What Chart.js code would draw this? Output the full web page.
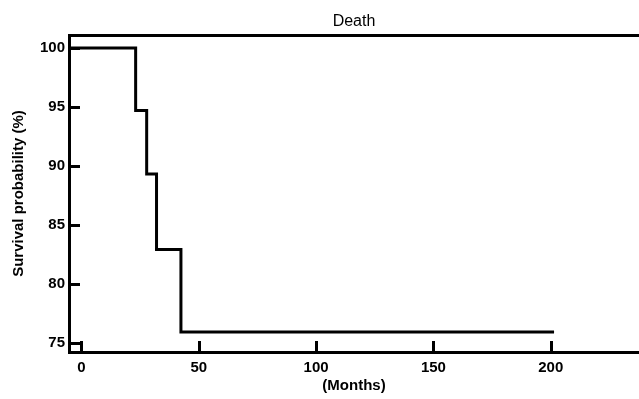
<!DOCTYPE html>
<html lang="en">
<head>
    <meta charset="UTF-8">
    <script src="https://cdn.jsdelivr.net/npm/chart.js"></script>
    <title>Death - survival</title>
    <style>
        body { margin: 0; background: #fff; }
        canvas { display: block; }
    </style>
</head>
<body>
    <canvas id="kmChart" width="639" height="399"></canvas>
    <script>
        // Kaplan-Meier curve
        var months = [-5.3, 23.1, 27.8, 32.0, 42.4, 201.4];
        var survival = [100, 94.7, 89.3, 82.9, 75.9, 75.9];

        var xTicks = [0, 50, 100, 150, 200];
        var yTicks = [75, 80, 85, 90, 95, 100];

        var X_MIN = -5.3, X_MAX = 237.6;
        var Y_MIN = 74.2, Y_MAX = 101.1;
        var TICK_LEN = 11;

        var tickFont = { family: 'Liberation Sans, Arial, sans-serif', size: 15, weight: 'bold' };
        var titleFont = { family: 'Liberation Sans, Arial, sans-serif', size: 15, weight: 'bold' };

        // tick marks point into the plot, so draw them ourselves off the scales
        const innerTicks = {
            id: 'innerTicks',
            afterDraw(chart) {
                const ctx = chart.ctx;
                const area = chart.chartArea;
                const x = chart.scales.x, y = chart.scales.y;
                ctx.save();
                ctx.strokeStyle = '#000';
                ctx.lineWidth = 3;
                ctx.lineCap = 'butt';
                ctx.beginPath();
                y.ticks.forEach(t => {
                    const py = Math.round(y.getPixelForValue(t.value)) + 0.5;
                    ctx.moveTo(area.left, py);
                    ctx.lineTo(area.left + TICK_LEN, py);
                });
                x.ticks.forEach(t => {
                    const px = Math.round(x.getPixelForValue(t.value)) + 0.5;
                    ctx.moveTo(px, area.bottom);
                    ctx.lineTo(px, area.bottom - TICK_LEN);
                });
                ctx.stroke();
                ctx.restore();
            }
        };

        const data = {
            datasets: [{
                data: months.map((m, i) => ({ x: m, y: survival[i] })),
                borderColor: '#000',
                borderWidth: 3,
                pointRadius: 0,
                stepped: true,
                fill: false,
                borderJoinStyle: 'miter'
            }]
        };

        const config = {
            type: 'line',
            data: data,
            options: {
                responsive: false,
                animation: false,
                layout: { padding: 0 },
                plugins: {
                    legend: { display: false },
                    tooltip: { enabled: false },
                    title: { display: false }
                },
                scales: {
                    x: {
                        type: 'linear',
                        position: 'bottom',
                        min: X_MIN,
                        max: X_MAX,
                        afterBuildTicks: s => { s.ticks = xTicks.map(v => ({ value: v })); },
                        afterFit: s => { s.height = 47; },
                        grid: { display: false, drawTicks: false },
                        border: { display: true, color: '#000', width: 3 },
                        ticks: { color: '#000', font: tickFont, padding: 7, maxRotation: 0 },
                        title: {
                            display: true,
                            text: '(Months)',
                            color: '#000',
                            font: titleFont,
                            padding: { top: 0, bottom: 4 }
                        }
                    },
                    xTop: {
                        type: 'linear',
                        position: 'top',
                        min: X_MIN,
                        max: X_MAX,
                        afterFit: s => { s.height = 35; },
                        grid: { display: false, drawTicks: false },
                        border: { display: true, color: '#000', width: 3 },
                        ticks: { display: false },
                        title: {
                            display: true,
                            text: 'Death',
                            color: '#000',
                            font: { family: 'Liberation Sans, Arial, sans-serif', size: 16 },
                            padding: { top: 12, bottom: 0 }
                        }
                    },
                    y: {
                        type: 'linear',
                        position: 'left',
                        min: Y_MIN,
                        max: Y_MAX,
                        afterBuildTicks: s => { s.ticks = yTicks.map(v => ({ value: v })); },
                        afterFit: s => { s.width = 69; },
                        grid: { display: false, drawTicks: false },
                        border: { display: true, color: '#000', width: 3 },
                        ticks: { color: '#000', font: tickFont, padding: 4 },
                        title: {
                            display: true,
                            text: 'Survival probability (%)',
                            color: '#000',
                            font: titleFont,
                            padding: { top: 10, bottom: 0 }
                        }
                    }
                }
            },
            plugins: [innerTicks]
        };

        const myChart = new Chart(document.getElementById('kmChart'), config);
    </script>
</body>
</html>
